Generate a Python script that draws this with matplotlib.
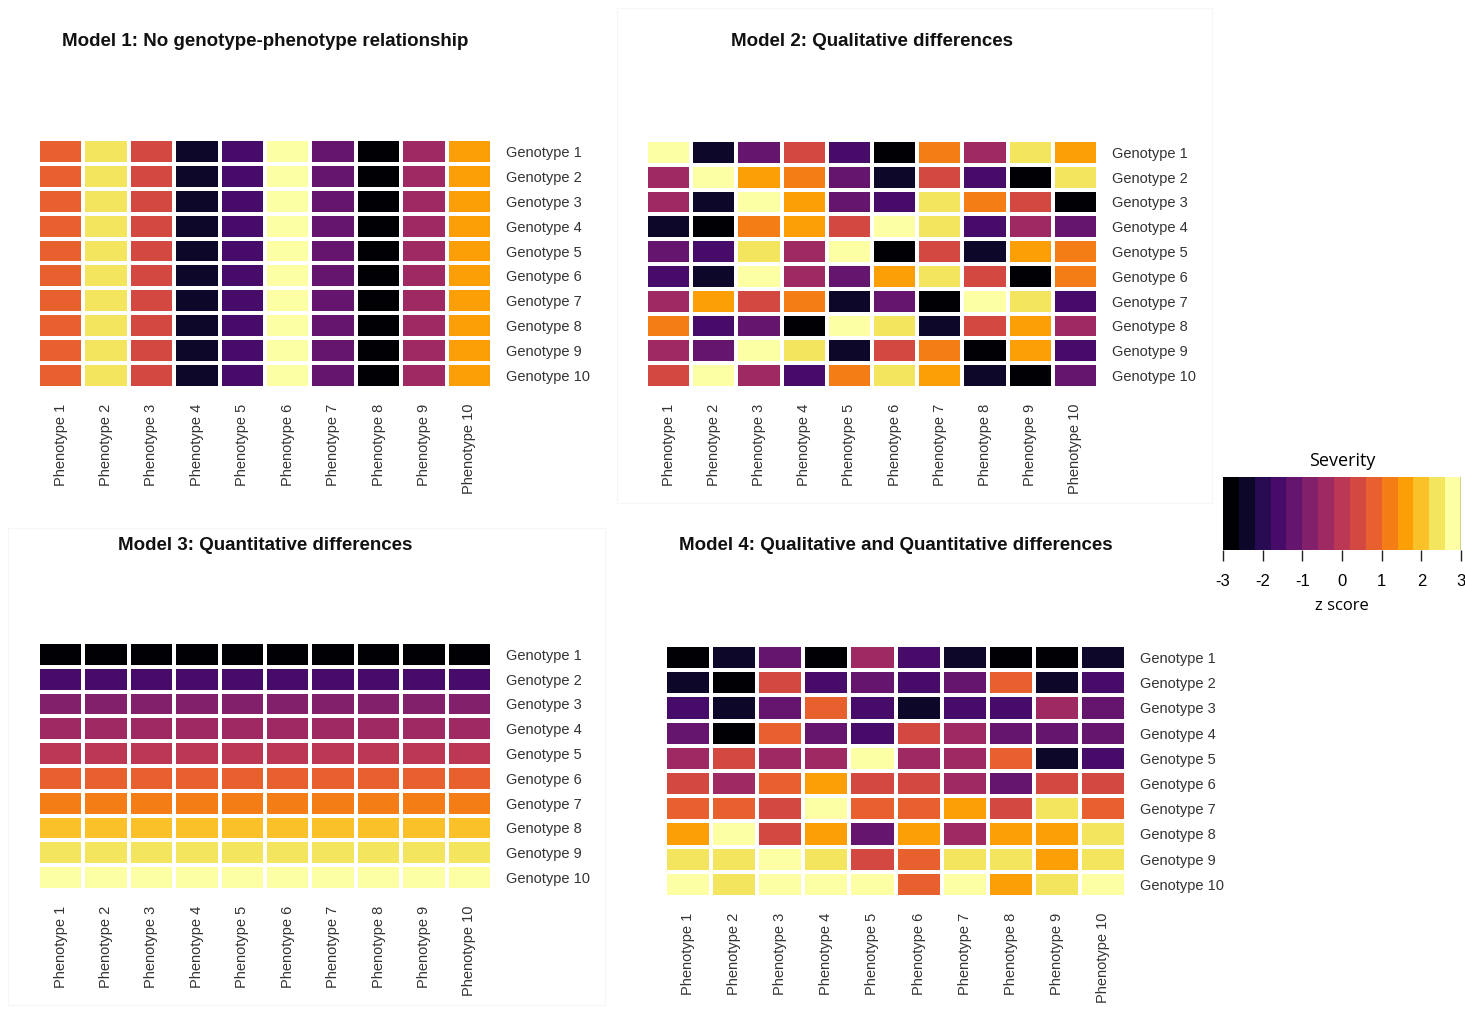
import matplotlib
matplotlib.use("Agg")
import matplotlib.pyplot as plt
from matplotlib.colors import ListedColormap, BoundaryNorm
from matplotlib.cm import ScalarMappable
from matplotlib.patches import Rectangle
import numpy as np

plt.rcParams['font.family'] = ['Liberation Sans', 'DejaVu Sans']

W, H = 1465, 1014

genotypes = ['Genotype %d' % i for i in range(1, 11)]
phenotypes = ['Phenotype %d' % i for i in range(1, 11)]

# z scores (rows = genotypes, columns = phenotypes)
# model 1: every genotype has the same value per phenotype
model1_cols = [0.8, 2.4, 0.4, -2.4, -1.6, 2.8, -1.2, -2.8, -0.4, 1.6]

model2 = [
    [2.8, -2.4, -1.2, 0.4, -1.6, -2.8, 1.2, -0.4, 2.4, 1.6],
    [-0.4, 2.8, 1.6, 1.2, -1.2, -2.4, 0.4, -1.6, -2.8, 2.4],
    [-0.4, -2.4, 2.8, 1.6, -1.2, -1.6, 2.4, 1.2, 0.4, -2.8],
    [-2.4, -2.8, 1.2, 1.6, 0.4, 2.8, 2.4, -1.6, -0.4, -1.2],
    [-1.2, -1.6, 2.4, -0.4, 2.8, -2.8, 0.4, -2.4, 1.6, 1.2],
    [-1.6, -2.4, 2.8, -0.4, -1.2, 1.6, 2.4, 0.4, -2.8, 1.2],
    [-0.4, 1.6, 0.4, 1.2, -2.4, -1.2, -2.8, 2.8, 2.4, -1.6],
    [1.2, -1.6, -1.2, -2.8, 2.8, 2.4, -2.4, 0.4, 1.6, -0.4],
    [-0.4, -1.2, 2.8, 2.4, -2.4, 0.4, 1.2, -2.8, 1.6, -1.6],
    [0.4, 2.8, -0.4, -1.6, 1.2, 2.4, 1.6, -2.4, -2.8, -1.2],
]

# model 3: every phenotype has the same value per genotype
model3_rows = [-2.8, -1.6, -0.8, -0.4, 0.0, 0.8, 1.2, 2.0, 2.4, 2.8]

model4 = [
    [-2.8, -2.4, -1.2, -2.8, -0.4, -1.6, -2.4, -2.8, -2.8, -2.4],
    [-2.4, -2.8, 0.4, -1.6, -1.2, -1.6, -1.2, 0.8, -2.4, -1.6],
    [-1.6, -2.4, -1.2, 0.8, -1.6, -2.4, -1.6, -1.6, -0.4, -1.2],
    [-1.2, -2.8, 0.8, -1.2, -1.6, 0.4, -0.4, -1.2, -1.2, -1.2],
    [-0.4, 0.4, -0.4, -0.4, 2.8, -0.4, -0.4, 0.8, -2.4, -1.6],
    [0.4, -0.4, 0.8, 1.6, 0.4, 0.4, -0.4, -1.2, 0.4, 0.4],
    [0.8, 0.8, 0.4, 2.8, 0.8, 0.8, 1.6, 0.4, 2.4, 0.8],
    [1.6, 2.8, 0.4, 1.6, -1.2, 1.6, -0.4, 1.6, 1.6, 2.4],
    [2.4, 2.4, 2.8, 2.4, 0.4, 0.8, 2.4, 2.4, 1.6, 2.4],
    [2.8, 2.4, 2.8, 2.8, 2.8, 0.8, 2.8, 1.6, 2.4, 2.8],
]

titles = ['Model 1: No genotype-phenotype relationship',
          'Model 2: Qualitative differences',
          'Model 3: Quantitative differences',
          'Model 4: Qualitative and Quantitative differences']

# 15 step inferno, -3 .. 3
cmap = ListedColormap(plt.get_cmap('inferno')(np.linspace(0, 1, 15)))
bounds = np.linspace(-3, 3, 16)
norm = BoundaryNorm(bounds, cmap.N)

fig = plt.figure(figsize=(W / 100, H / 100), dpi=100)


def px_axes(x0, y0, x1, y1):
    return fig.add_axes([x0 / W, 1 - y1 / H, (x1 - x0) / W, (y1 - y0) / H])


# faint panel frames
for (x0, y0, x1, y1) in [(617, 8, 1212, 503), (8, 528, 605, 1005)]:
    fig.add_artist(Rectangle((x0 / W, 1 - y1 / H), (x1 - x0) / W, (y1 - y0) / H,
                             transform=fig.transFigure, fill=False,
                             edgecolor='#f6f6f6', linewidth=0.8))


def heat(data, box, title, title_y):
    x0, y0, x1, y1 = box
    ax = px_axes(x0, y0, x1, y1)
    ax.pcolormesh(np.array(data), cmap=cmap, norm=norm,
                  edgecolors='white', linewidth=1.7)
    ax.set_xlim(0, 10)
    ax.set_ylim(10, 0)
    for s in ax.spines.values():
        s.set_visible(False)
    ax.yaxis.tick_right()
    ax.set_yticks(np.arange(10) + 0.5, genotypes)
    ax.set_xticks(np.arange(10) + 0.5, phenotypes, rotation=90, va='top')
    ax.tick_params(length=0, labelsize=10.5, labelcolor='#333333')
    ax.tick_params(axis='y', pad=10)
    ax.tick_params(axis='x', pad=11)
    fig.text((x0 + x1) / 2 / W, 1 - title_y / H, title, ha='center', va='center',
             fontsize=13.5, fontweight='bold', color='#111111')
    return ax


heat(np.tile(model1_cols, (10, 1)), (38, 139, 492, 388), titles[0], 41)
heat(model2, (646, 140, 1098, 388), titles[1], 42)
heat(np.tile(np.array(model3_rows)[:, None], (1, 10)), (38, 642, 492, 890), titles[2], 545)
heat(model4, (665, 645, 1126, 897), titles[3], 545)

# legend
cax = px_axes(1223, 477, 1461, 550)
cb = fig.colorbar(ScalarMappable(norm=norm, cmap=cmap), cax=cax,
                  orientation='horizontal', ticks=[-3, -2, -1, 0, 1, 2, 3])
cb.minorticks_off()
cb.outline.set_visible(False)
cax.axvline(3, color='#222222', linewidth=1)
cb.ax.tick_params(length=8, width=1, labelsize=12, pad=9, color='#222222')
cb.set_ticklabels(['-3', '-2', '-1', '0', '1', '2', '3'])
cb.ax.set_xlabel('z score', fontsize=12, family=['Open Sans', 'DejaVu Sans'], labelpad=7)
cb.ax.set_title('Severity', fontsize=13, family=['Open Sans', 'DejaVu Sans'], pad=8)

fig.savefig('out.png', dpi=100, facecolor='white')
